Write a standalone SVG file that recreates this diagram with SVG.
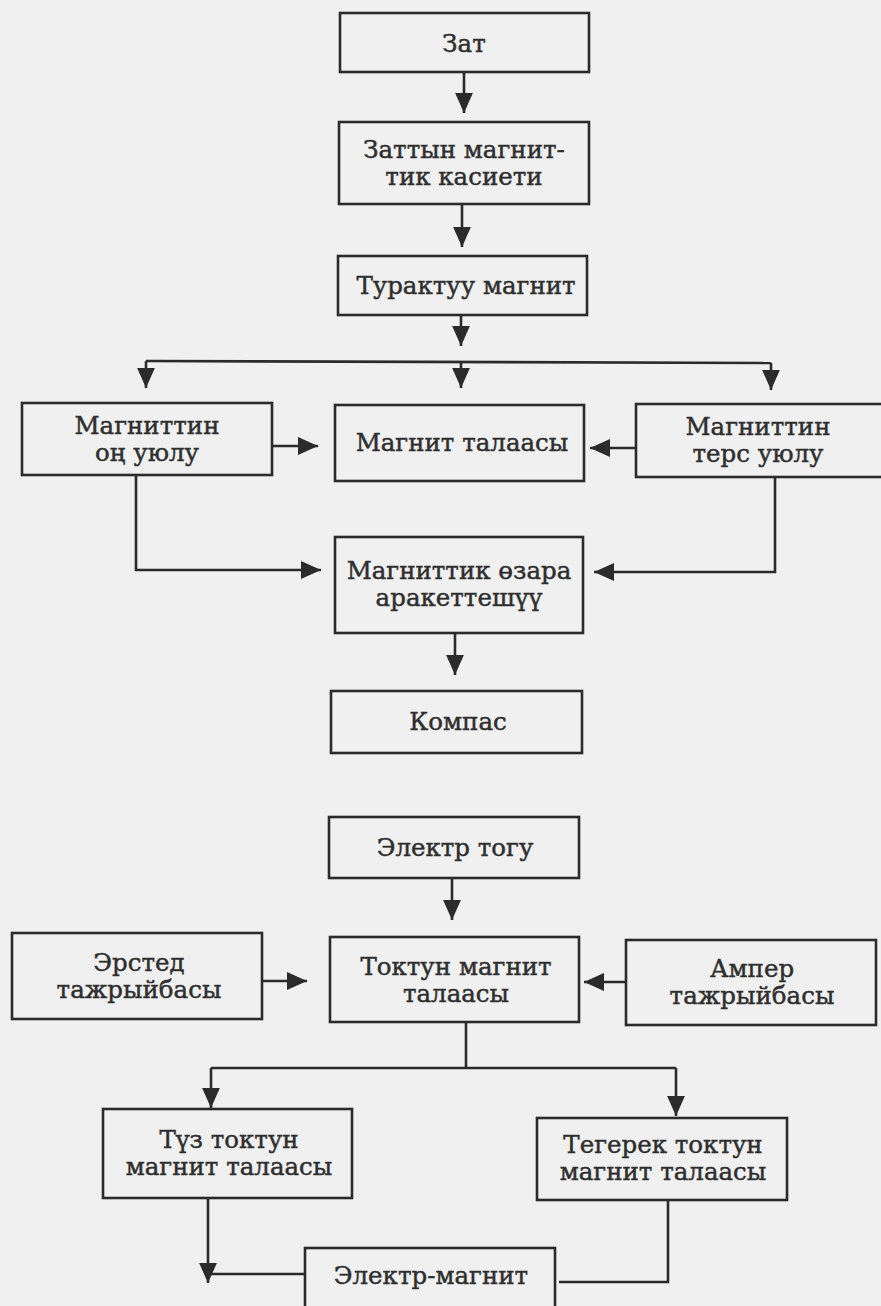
<svg xmlns="http://www.w3.org/2000/svg" width="881" height="1306" viewBox="0 0 881 1306">
<defs>
<marker id="ah" markerUnits="userSpaceOnUse" markerWidth="20" markerHeight="20" viewBox="0 0 18 16" refX="18" refY="8" orient="auto">
<path d="M0,0 L18,8 L0,16 Z" fill="#2b2b2b"/>
</marker>
</defs>
<style>
.box{fill:none;stroke:#2b2b2b;stroke-width:2.6}
.c{fill:none;stroke:#2b2b2b;stroke-width:2.6}
.a{marker-end:url(#ah)}
text{font-family:"DejaVu Serif","Liberation Serif",serif;font-size:24.5px;fill:#2e2e2e;stroke:#2e2e2e;stroke-width:0.45;text-anchor:middle}
</style>
<rect width="881" height="1306" fill="#f0f0f0"/>
<g id="n1"><rect class="box" x="340" y="13" width="249" height="59"/><text x="464" y="52">Зат</text></g>
<g id="n2"><rect class="box" x="339" y="122" width="250" height="82"/><text x="464" y="158">Заттын магнит-</text><text x="464" y="185">тик касиети</text></g>
<g id="n3"><rect class="box" x="338" y="256" width="249" height="59"/><text x="466" y="294">Турактуу магнит</text></g>
<g id="n4"><rect class="box" x="22" y="403" width="250" height="72"/><text x="147" y="434">Магниттин</text><text x="147" y="461">оң уюлу</text></g>
<g id="n5"><rect class="box" x="335" y="405" width="249" height="76"/><text x="462" y="451">Магнит талаасы</text></g>
<g id="n6"><rect class="box" x="636" y="404" width="260" height="73"/><text x="758" y="435">Магниттин</text><text x="758" y="462">терс уюлу</text></g>
<g id="n7"><rect class="box" x="335" y="537" width="248" height="96"/><text x="459" y="579">Магниттик өзара</text><text x="459" y="606">аракеттешүү</text></g>
<g id="n8"><rect class="box" x="331" y="691" width="251" height="62"/><text x="458" y="730">Компас</text></g>
<g id="n9"><rect class="box" x="329" y="817" width="250" height="61"/><text x="455" y="856">Электр тогу</text></g>
<g id="n10"><rect class="box" x="12" y="933" width="250" height="86"/><text x="139" y="971">Эрстед</text><text x="139" y="998">тажрыйбасы</text></g>
<g id="n11"><rect class="box" x="330" y="937" width="249" height="85"/><text x="456" y="975">Токтун магнит</text><text x="456" y="1002">талаасы</text></g>
<g id="n12"><rect class="box" x="626" y="940" width="250" height="85"/><text x="752" y="977">Ампер</text><text x="752" y="1004">тажрыйбасы</text></g>
<g id="n13"><rect class="box" x="103" y="1109" width="249" height="89"/><text x="229" y="1148">Түз токтун</text><text x="229" y="1175">магнит талаасы</text></g>
<g id="n14"><rect class="box" x="537" y="1118" width="250" height="82"/><text x="663" y="1153">Тегерек токтун</text><text x="663" y="1180">магнит талаасы</text></g>
<g id="n15"><rect class="box" x="305" y="1248" width="250" height="70"/><text x="431" y="1284">Электр-магнит</text></g>
<g id="connectors">
<line class="c a" x1="464" y1="72" x2="464" y2="113"/>
<line class="c a" x1="462" y1="204" x2="462" y2="247"/>
<line class="c a" x1="461" y1="315" x2="461" y2="346"/>
<polyline class="c" points="146,361 771,363"/>
<line class="c a" x1="146" y1="361" x2="146" y2="388"/>
<line class="c a" x1="461" y1="362" x2="461" y2="388"/>
<line class="c a" x1="771" y1="363" x2="771" y2="390"/>
<line class="c a" x1="272" y1="446" x2="318" y2="446"/>
<line class="c a" x1="636" y1="448" x2="590" y2="448"/>
<polyline class="c a" points="136,475 136,570 321,570"/>
<polyline class="c a" points="775,477 775,572 594,572"/>
<line class="c a" x1="455" y1="633" x2="455" y2="675"/>
<line class="c a" x1="452" y1="878" x2="452" y2="920"/>
<line class="c a" x1="262" y1="981" x2="307" y2="981"/>
<line class="c a" x1="626" y1="982" x2="584" y2="982"/>
<polyline class="c" points="466,1022 466,1068"/>
<polyline class="c" points="211,1068 676,1068"/>
<line class="c a" x1="211" y1="1068" x2="211" y2="1108"/>
<line class="c a" x1="676" y1="1068" x2="676" y2="1116"/>
<polyline class="c" points="305,1274 208,1274"/>
<line class="c a" x1="208" y1="1198" x2="208" y2="1283"/>
<polyline class="c" points="668,1200 668,1282 559,1282"/>
</g>
</svg>
